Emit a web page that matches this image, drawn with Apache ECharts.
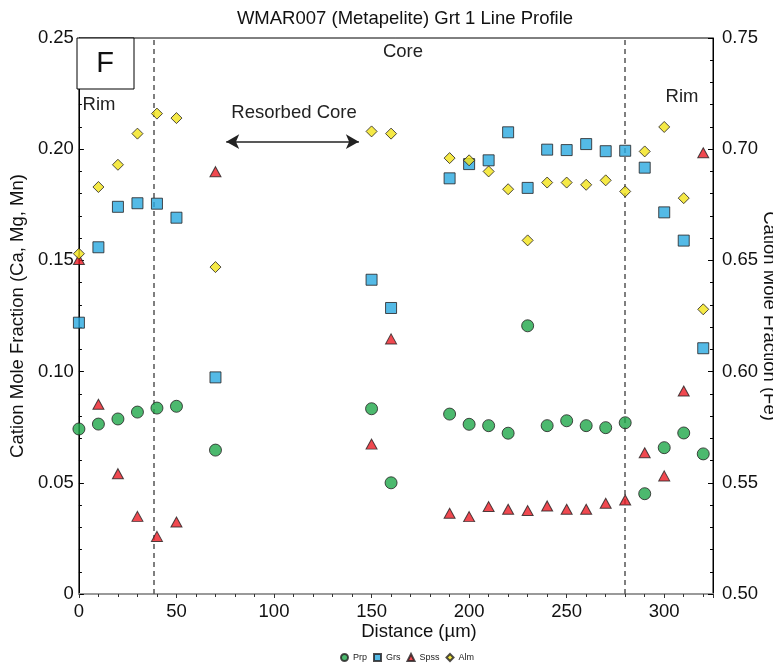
<!DOCTYPE html>
<html>
<head>
<meta charset="utf-8">
<script src="https://cdn.jsdelivr.net/npm/echarts@6/dist/echarts.min.js"></script>
<style>
  html, body { margin: 0; padding: 0; background: #fff; }
  #chart { width: 773px; height: 663px; }
</style>
</head>
<body>
<div id="chart"></div>
<script>
// Garnet line profile: cation mole fractions along the traverse (µm)
const distance = [0, 10, 20, 30, 40, 50, 70, 150, 160, 190, 200, 210, 220, 230, 240, 250, 260, 270, 280, 290, 300, 310, 320];
const prp  = [0.0742, 0.0764, 0.0787, 0.0818, 0.0836, 0.0844, 0.0647, 0.0833, 0.0500, 0.0809, 0.0763, 0.0757, 0.0723, 0.1206, 0.0757, 0.0779, 0.0757, 0.0748, 0.0770, 0.0451, 0.0658, 0.0724, 0.0630];
const grs  = [0.1220, 0.1559, 0.1741, 0.1757, 0.1755, 0.1692, 0.0974, 0.1413, 0.1286, 0.1869, 0.1933, 0.1950, 0.2076, 0.1826, 0.1998, 0.1996, 0.2023, 0.1991, 0.1993, 0.1917, 0.1716, 0.1589, 0.1105];
const spss = [0.1504, 0.0853, 0.0541, 0.0349, 0.0259, 0.0324, 0.1899, 0.0674, 0.1147, 0.0363, 0.0348, 0.0393, 0.0381, 0.0375, 0.0396, 0.0381, 0.0381, 0.0408, 0.0423, 0.0635, 0.0531, 0.0913, 0.1984];
const alm  = [0.653, 0.683, 0.693, 0.707, 0.716, 0.714, 0.647, 0.708, 0.707, 0.696, 0.695, 0.690, 0.682, 0.659, 0.685, 0.685, 0.684, 0.686, 0.681, 0.699, 0.710, 0.678, 0.628];

// Rim / core boundaries and the resorbed-core span
const rimBoundaries = [38.5, 280];
const resorbedSpan = [75.5, 143.5];
const resorbedLevel = 0.2034;

const FONT = "'Liberation Sans', Arial, sans-serif";
const pairs = ys => distance.map((d, i) => [d, ys[i]]);

const chart = echarts.init(document.getElementById('chart'), null, { renderer: 'canvas' });

const markerBase = (color) => ({ color: color, borderColor: '#231f20', borderWidth: 1 });

chart.setOption({
  animation: false,
  backgroundColor: '#fff',
  textStyle: { fontFamily: FONT },
  title: {
    text: 'WMAR007 (Metapelite) Grt 1 Line Profile',
    left: 400, top: 4, textAlign: 'center',
    textStyle: { fontFamily: FONT, fontSize: 18.5, fontWeight: 'normal', color: '#111' }
  },
  grid: {
    left: 77, right: 60, top: 38, bottom: 69,
    show: true, borderColor: '#000', borderWidth: 1, backgroundColor: 'transparent'
  },
  legend: {
    top: 648, left: 335,
    itemWidth: 7, itemHeight: 7, itemGap: 6,
    textStyle: { fontFamily: FONT, fontSize: 9, color: '#222' },
    data: ['Prp', 'Grs', 'Spss', 'Alm']
  },
  xAxis: {
    type: 'value', min: 0, max: 325, interval: 50,
    axisLine: { show: true, lineStyle: { color: '#9a9a9a', width: 2 } },
    axisTick: { show: true, length: 4, lineStyle: { color: '#333' } },
    minorTick: { show: true, splitNumber: 5, length: 3, lineStyle: { color: '#333' } },
    splitLine: { show: false },
    axisLabel: { fontFamily: FONT, fontSize: 18.5, color: '#111', margin: 8, showMaxLabel: false }
  },
  yAxis: [
    {
      type: 'value', min: 0, max: 0.25, interval: 0.05, position: 'left',
      name: 'Cation Mole Fraction (Ca, Mg, Mn)', nameLocation: 'middle', nameGap: 46,
      nameTextStyle: { fontFamily: FONT, fontSize: 18.5, color: '#111' },
      axisLine: { show: true, lineStyle: { color: '#000', width: 1 } },
      axisTick: { show: true, inside: true, length: 5, lineStyle: { color: '#000' } },
      minorTick: { show: true, splitNumber: 5, length: 3, lineStyle: { color: '#000' } },
      splitLine: { show: false },
      axisLabel: {
        fontFamily: FONT, fontSize: 18.5, color: '#111', margin: 5,
        formatter: v => (v === 0 ? '0' : v.toFixed(2))
      }
    },
    {
      type: 'value', min: 0.5, max: 0.75, interval: 0.05, position: 'right',
      axisLine: { show: true, lineStyle: { color: '#000', width: 1 } },
      axisTick: { show: true, inside: true, length: 5, lineStyle: { color: '#000' } },
      minorTick: { show: true, splitNumber: 5, length: 3, lineStyle: { color: '#000' } },
      splitLine: { show: false },
      axisLabel: {
        fontFamily: FONT, fontSize: 18.5, color: '#111', margin: 9,
        formatter: v => v.toFixed(2)
      }
    }
  ],
  graphic: [
    { type: 'rect', shape: { x: 77, y: 38, width: 57, height: 51 },
      style: { fill: '#fff', stroke: '#000', lineWidth: 1 }, z: 100 },
    { type: 'text', x: 105, y: 64, z: 101,
      style: { text: 'F', font: "29px " + FONT, fill: '#111', textAlign: 'center', textVerticalAlign: 'middle' } },
    { type: 'text', x: 403, y: 52, z: 101,
      style: { text: 'Core', font: "18.5px " + FONT, fill: '#222', textAlign: 'center', textVerticalAlign: 'middle' } },
    { type: 'text', x: 99, y: 105, z: 101,
      style: { text: 'Rim', font: "18.5px " + FONT, fill: '#222', textAlign: 'center', textVerticalAlign: 'middle' } },
    { type: 'text', x: 682, y: 97, z: 101,
      style: { text: 'Rim', font: "18.5px " + FONT, fill: '#222', textAlign: 'center', textVerticalAlign: 'middle' } },
    { type: 'text', x: 294, y: 113, z: 101,
      style: { text: 'Resorbed Core', font: "18.5px " + FONT, fill: '#222', textAlign: 'center', textVerticalAlign: 'middle' } },
    { type: 'text', x: 419, y: 632, z: 101,
      style: { text: 'Distance (µm)', font: "18.5px " + FONT, fill: '#111', textAlign: 'center', textVerticalAlign: 'middle' } },
    { type: 'text', x: 769, y: 316, rotation: -Math.PI / 2, z: 101,
      style: { text: 'Cation Mole Fraction (Fe)', font: "18.5px " + FONT, fill: '#111', textAlign: 'center', textVerticalAlign: 'middle' } }
  ],
  series: [
    {
      name: 'Prp', type: 'scatter', yAxisIndex: 0, symbol: 'circle', symbolSize: 12,
      itemStyle: markerBase('#1fa84a'), z: 2,
      data: pairs(prp),
      markLine: {
        silent: true, z: 1, symbol: ['none', 'none'], label: { show: false },
        lineStyle: { color: '#555', width: 1.5, type: [5, 4] },
        data: [
          ...rimBoundaries.map(x => ({ xAxis: x })),
          [
            { coord: [resorbedSpan[0], resorbedLevel], symbol: 'arrow', symbolSize: [11, 13],
              lineStyle: { color: '#222', width: 1.5, type: 'solid' } },
            { coord: [resorbedSpan[1], resorbedLevel], symbol: 'arrow', symbolSize: [11, 13] }
          ]
        ]
      }
    },
    {
      name: 'Grs', type: 'scatter', yAxisIndex: 0, symbol: 'rect', symbolSize: 11,
      itemStyle: markerBase('#29a9e0'), z: 3,
      data: pairs(grs)
    },
    {
      name: 'Spss', type: 'scatter', yAxisIndex: 0, symbol: 'triangle', symbolSize: [11, 10],
      itemStyle: markerBase('#ec1c24'), z: 4,
      data: pairs(spss)
    },
    {
      name: 'Alm', type: 'scatter', yAxisIndex: 1, symbol: 'diamond', symbolSize: 11,
      itemStyle: markerBase('#f2e418'), z: 5,
      data: pairs(alm)
    }
  ]
});
</script>
</body>
</html>
